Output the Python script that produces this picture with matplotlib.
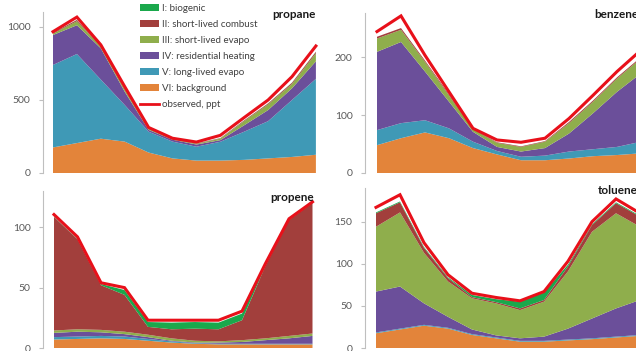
import matplotlib
matplotlib.use('Agg')
import matplotlib.pyplot as plt
from matplotlib.patches import Patch
from matplotlib.lines import Line2D

plt.rcParams['font.family'] = ['Lato', 'DejaVu Sans']

months = list(range(1, 13))

source_labels = ["I: biogenic", "II: short-lived combust", "III: short-lived evapo",
                 "IV: residential heating", "V: long-lived evapo", "VI: background"]
source_colors = ["#1aa84c", "#a23f3c", "#8fae4c", "#6b4f9a", "#3f99b6", "#e3843a"]
obs_label = "observed, ppt"
obs_color = "#e8101a"

# propane
propane_bg = [175, 205, 235, 215, 140, 100, 85, 85, 90, 100, 110, 125]
propane_longev = [565, 610, 405, 251, 143, 115, 95, 129, 193, 255, 390, 520]
propane_resid = [205, 197, 214, 91, 12, 13, 15, 11, 44, 76, 80, 120]
propane_slevap = [10, 28, 14, 15, 7, 4, 5, 10, 28, 39, 30, 55]
propane_slcomb = [5, 8, 4, 6, 3, 2, 2, 3, 5, 6, 8, 10]
propane_bio = [1, 1, 1, 1, 1, 1, 1, 1, 1, 1, 1, 1]
propane_obs = [968, 1068, 878, 592, 312, 238, 212, 258, 380, 500, 660, 870]

# benzene
benzene_bg = [48, 60, 70, 60, 43, 32, 22, 22, 25, 29, 31, 34]
benzene_longev = [26, 26, 21, 17, 11, 6, 6, 8, 12, 12, 14, 20]
benzene_resid = [135, 140, 84, 46, 17, 7, 9, 13, 31, 62, 95, 118]
benzene_slevap = [23, 21, 17, 11, 5, 7, 8, 11, 18, 20, 23, 26]
benzene_slcomb = [3, 3, 2, 2, 1, 1, 1, 1, 2, 2, 2, 2]
benzene_bio = [0, 0, 0, 0, 0, 0, 0, 0, 0, 0, 0, 0]
benzene_obs = [244, 271, 203, 140, 77, 57, 53, 60, 94, 134, 175, 212]

# propene
propene_bg = [7, 7.5, 8, 7.5, 6, 4.5, 3.5, 3, 3, 3, 3, 3]
propene_longev = [2, 2, 2, 2, 1.5, 1, 0.5, 0.5, 0.5, 0.5, 0.5, 0.5]
propene_resid = [3.5, 4, 3, 2, 1.5, 0.5, 0.5, 1, 1.5, 3, 4.5, 6.5]
propene_slevap = [2, 2, 2, 2, 2, 2, 1.5, 1, 1.5, 1.5, 2, 2]
propene_slcomb = [94, 74.5, 37, 30.5, 6.5, 7.5, 10, 10, 16.5, 60, 96, 108]
propene_bio = [0.3, 0.3, 1, 4, 4, 5.5, 5.5, 5.5, 5.5, 0.5, 0.3, 0.3]
propene_obs = [110.5, 92, 54, 50, 23, 23, 23, 23, 30.5, 70, 107, 121]

# toluene
toluene_bg = [17.5, 22, 26.5, 23, 15.5, 11.5, 7.5, 7.5, 9, 10.5, 12.5, 14.5]
toluene_longev = [1, 1, 1, 1, 1, 1, 1, 1, 1, 1, 1, 1]
toluene_resid = [48.5, 50, 25.5, 13, 5.5, 2.5, 3, 5, 13, 23.5, 33.5, 41.5]
toluene_slevap = [77, 88, 60, 42, 37, 38, 33.5, 41.5, 68, 103, 113, 87]
toluene_slcomb = [16, 12, 6, 4, 1.5, 1.5, 2, 2, 6, 8, 12, 12]
toluene_bio = [1, 1, 1, 1, 2.5, 3.5, 8, 9, 2, 1, 1, 1]
toluene_obs = [167, 182, 125, 87, 65, 60, 56, 67, 103, 150, 177, 160]

W, H = 636, 351
fig = plt.figure(figsize=(W / 100, H / 100), dpi=100)


def px_axes(left, top, right, bottom):
    return fig.add_axes([left / W, 1 - bottom / H, (right - left) / W, (bottom - top) / H])


def panel(box, first_x, step, ymax, yticks, name, title_xy, layers, obs):
    ax = px_axes(*box)
    left, top, right, bottom = box
    x0 = 1 - (first_x - left) / step
    x1 = 12 + (right - (first_x + 11 * step)) / step
    # stack bottom -> top: VI, V, IV, III, II, I
    ax.stackplot(months, *layers[::-1], colors=source_colors[::-1], linewidth=0)
    ax.plot(months, obs, color=obs_color, lw=2.2, solid_joinstyle='miter')
    ax.set_xlim(x0, x1)
    ax.set_ylim(0, ymax)
    ax.set_yticks(yticks)
    ax.set_xticks([])
    for s in ['top', 'right', 'bottom']:
        ax.spines[s].set_visible(False)
    ax.spines['left'].set_color('#bfbfbf')
    ax.tick_params(axis='y', length=3, width=0.8, color='#bfbfbf',
                   labelsize=7.5, labelcolor='#595959', pad=6)
    ax.patch.set_alpha(0)
    fig.text(title_xy[0] / W, 1 - title_xy[1] / H, name, ha='right', va='center',
             fontsize=8.5, fontweight='bold', color='#1a1a1a')
    return ax


ax1 = panel((43, 12.4, 320, 173), 53, 23.9, 1100, [0, 500, 1000], "propane", (316, 15),
            [propane_bio, propane_slcomb, propane_slevap, propane_resid, propane_longev, propane_bg],
            propane_obs)
panel((365, 13, 645, 173), 377, 24, 276, [0, 100, 200], "benzene", (638, 15),
      [benzene_bio, benzene_slcomb, benzene_slevap, benzene_resid, benzene_longev, benzene_bg],
      benzene_obs)
panel((43, 191, 318, 348), 54, 23.5, 130, [0, 50, 100], "propene", (314, 197),
      [propene_bio, propene_slcomb, propene_slevap, propene_resid, propene_longev, propene_bg],
      propene_obs)
panel((365, 188, 645, 348), 376, 24, 190, [0, 50, 100, 150], "toluene", (638, 190),
      [toluene_bio, toluene_slcomb, toluene_slevap, toluene_resid, toluene_longev, toluene_bg],
      toluene_obs)

handles = [Patch(facecolor=c, edgecolor='none') for c in source_colors]
handles.append(Line2D([0], [0], color=obs_color, lw=2))
leg = fig.legend(handles, source_labels + [obs_label], loc='upper left',
                 bbox_to_anchor=(140 / W, 1 - 4 / H), frameon=False, fontsize=7,
                 handlelength=2.0, handleheight=0.7, handletextpad=0.25,
                 labelspacing=0.72, borderaxespad=0, borderpad=0)
for t in leg.get_texts():
    t.set_color('#404040')

fig.savefig("out.png", dpi=100)
